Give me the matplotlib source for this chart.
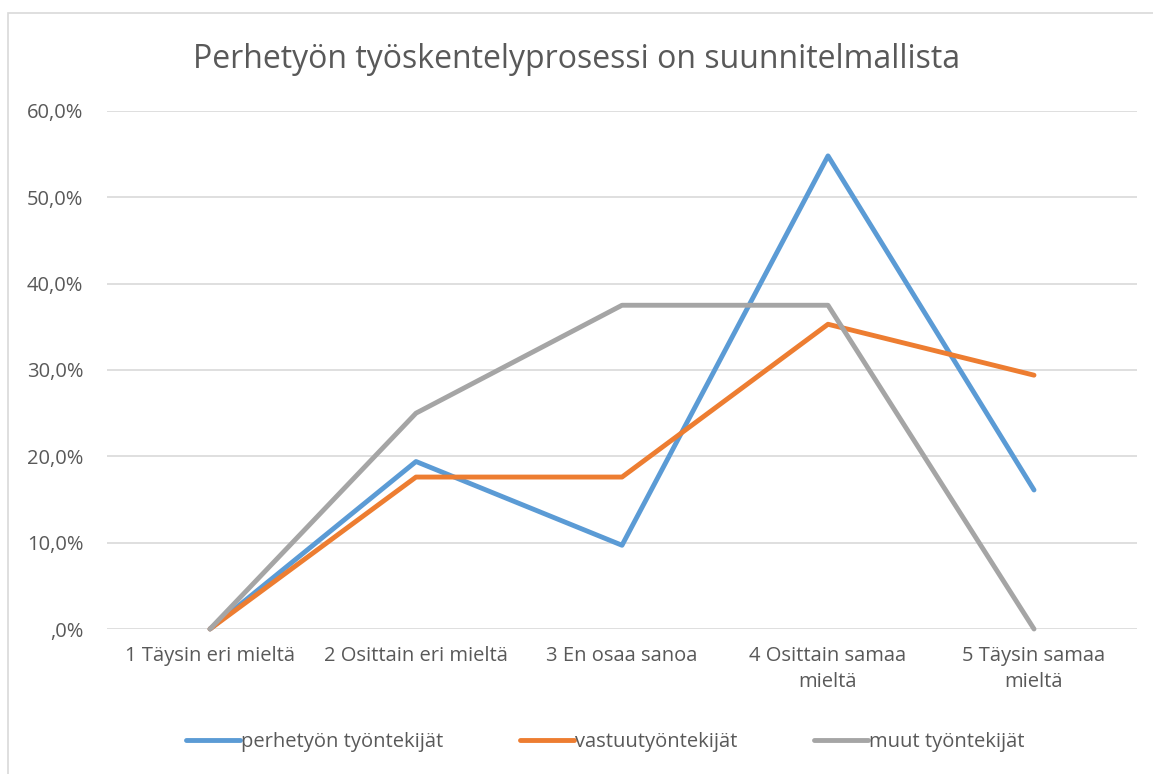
import matplotlib
matplotlib.use('Agg')
import matplotlib.pyplot as plt
from matplotlib.patches import Rectangle
from matplotlib.ticker import FuncFormatter

categories = ['1 Täysin eri mieltä', '2 Osittain eri mieltä', '3 En osaa sanoa',
              '4 Osittain samaa\nmieltä', '5 Täysin samaa\nmieltä']
perhetyo = [0.0, 19.4, 9.7, 54.8, 16.1]
vastuu = [0.0, 17.6, 17.6, 35.3, 29.4]
muut = [0.0, 25.0, 37.5, 37.5, 0.0]
series_names = ['perhetyön työntekijät', 'vastuutyöntekijät', 'muut työntekijät']
colors = ['#5B9BD5', '#ED7D31', '#A5A5A5']

plt.rcParams['font.family'] = ['Open Sans', 'DejaVu Sans']
text_col = '#595959'

fig = plt.figure(figsize=(11.53, 7.74), dpi=100)
fig.patches.append(Rectangle((8 / 1153, -0.1), 1.2, 1 - 13 / 774 + 0.1,
                             transform=fig.transFigure, fill=False,
                             edgecolor='#D9D9D9', linewidth=1.2))

ax = fig.add_axes([107 / 1153, 1 - 629 / 774, 1030 / 1153, 518 / 774])
x = list(range(len(categories)))
for vals, name, c in zip([perhetyo, vastuu, muut], series_names, colors):
    ax.plot(x, vals, color=c, linewidth=3.5, solid_capstyle='round',
            solid_joinstyle='round', label=name, clip_on=False)

ax.set_xlim(-0.5, len(categories) - 0.5)
ax.set_ylim(0, 60)
ax.set_yticks(range(0, 61, 10))
ax.yaxis.set_major_formatter(FuncFormatter(
    lambda v, p: ',0%' if v == 0 else f'{v:.1f}%'.replace('.', ',')))
ax.set_xticks(x)
ax.set_xticklabels(categories, linespacing=1.45)
ax.grid(axis='y', color='#D9D9D9', linewidth=1.2)
ax.set_axisbelow(True)
for s in ax.spines.values():
    s.set_visible(False)
ax.tick_params(length=0, labelsize=14.5, colors=text_col)
ax.tick_params(axis='y', pad=17)
ax.tick_params(axis='x', pad=12)

fig.text(0.5, 1 - 60 / 774, 'Perhetyön työskentelyprosessi on suunnitelmallista',
         ha='center', va='center', fontsize=23, color=text_col)

fig.legend(loc='center', bbox_to_anchor=(0.525, 1 - 742 / 774), ncol=3,
           frameon=False, fontsize=14.5, labelcolor=text_col,
           handlelength=2.7, handletextpad=0.05, columnspacing=3.8)

fig.savefig('out.png', dpi=100)
